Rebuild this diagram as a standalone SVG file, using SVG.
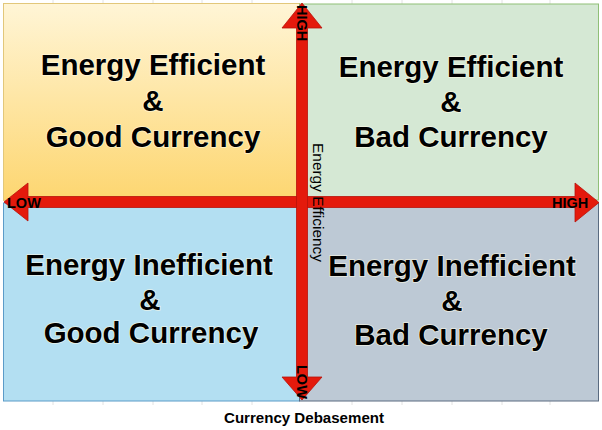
<svg xmlns="http://www.w3.org/2000/svg" width="602" height="430" viewBox="0 0 602 430">
  <defs>
    <linearGradient id="yel" x1="0" y1="0" x2="0" y2="1">
      <stop offset="0" stop-color="#fff5d6"/>
      <stop offset="1" stop-color="#fdd670"/>
    </linearGradient>
    <style>
      .big{font-family:"Liberation Sans",Arial,sans-serif;font-weight:bold;font-size:29.5px;fill:#000;text-anchor:middle;stroke:#fffbe6;stroke-width:1.6px;stroke-opacity:0.7;paint-order:stroke}
      .ax{font-family:"Liberation Sans",Arial,sans-serif;font-weight:bold;font-size:14.5px;fill:#000}
      .axn{font-family:"Liberation Sans",Arial,sans-serif;font-size:14.5px;fill:#000}
      .title{font-family:"Liberation Sans",Arial,sans-serif;font-weight:bold;font-size:15px;fill:#000;text-anchor:middle}
      .arrow{fill:#e41a0c;stroke:#b8120a;stroke-width:0.8}
      .grid{stroke:#e2e2e2;stroke-width:1}
    </style>
  </defs>
  <rect width="602" height="430" fill="#ffffff"/>
  <g id="grid">
    <path class="grid" d="M53 0V4M103 0V4M153 0V4M202 0V4M252 0V4M352 0V4M402 0V4M452 0V4M502 0V4M550 0V4M53 401V405M103 401V405M153 401V405M202 401V405M252 401V405M352 401V405M402 401V405M452 401V405M502 401V405M550 401V405"/>
  </g>
  <g id="q-tl">
    <rect x="3.5" y="3.5" width="296" height="197" fill="url(#yel)" stroke="#e2c77a" stroke-width="1"/>
    <text class="big" x="153" y="75">Energy Efficient</text>
    <text class="big" x="153" y="111">&amp;</text>
    <text class="big" x="153" y="147">Good Currency</text>
  </g>
  <g id="q-tr">
    <rect x="299.5" y="4" width="299" height="196" fill="#d5e8d4" stroke="#8fbf77" stroke-width="1"/>
    <text class="big" x="451" y="77">Energy Efficient</text>
    <text class="big" x="451" y="112">&amp;</text>
    <text class="big" x="451" y="147">Bad Currency</text>
  </g>
  <g id="q-bl">
    <rect x="3.5" y="203" width="296" height="198" fill="#b3dff2" stroke="#5b9bc8" stroke-width="1"/>
    <text class="big" x="149" y="275">Energy Inefficient</text>
    <text class="big" x="150" y="310">&amp;</text>
    <text class="big" x="151" y="343">Good Currency</text>
  </g>
  <g id="q-br">
    <rect x="299.5" y="203" width="299" height="198" fill="#bdc9d5" stroke="#5a6b80" stroke-width="1"/>
    <text class="big" x="452" y="276">Energy Inefficient</text>
    <text class="big" x="452" y="311">&amp;</text>
    <text class="big" x="451" y="345">Bad Currency</text>
  </g>
  <g id="connectors">
    <polygon class="arrow" points="4,202 28,183 28,196.5 575,196.5 575,183 599,202.5 575,222 575,207.5 28,207.5 28,221"/>
    <polygon class="arrow" points="302,3 322,28 307.5,28 307.5,377 322,377 302,400 282,377 296.5,377 296.5,28 282,28"/>
  </g>
  <g id="axis-labels">
    <text class="ax" x="7" y="207.5">LOW</text>
    <text class="ax" x="552" y="208">HIGH</text>
    <text class="ax" transform="translate(296.5,5) rotate(90)">HIGH</text>
    <text class="ax" transform="translate(296.5,365) rotate(90)">LOW</text>
    <text class="axn" transform="translate(313,143) rotate(90)" textLength="119" lengthAdjust="spacingAndGlyphs">Energy Efficiency</text>
  </g>
  <g id="title">
    <text class="title" x="304" y="423" textLength="160" lengthAdjust="spacingAndGlyphs">Currency Debasement</text>
  </g>
</svg>
